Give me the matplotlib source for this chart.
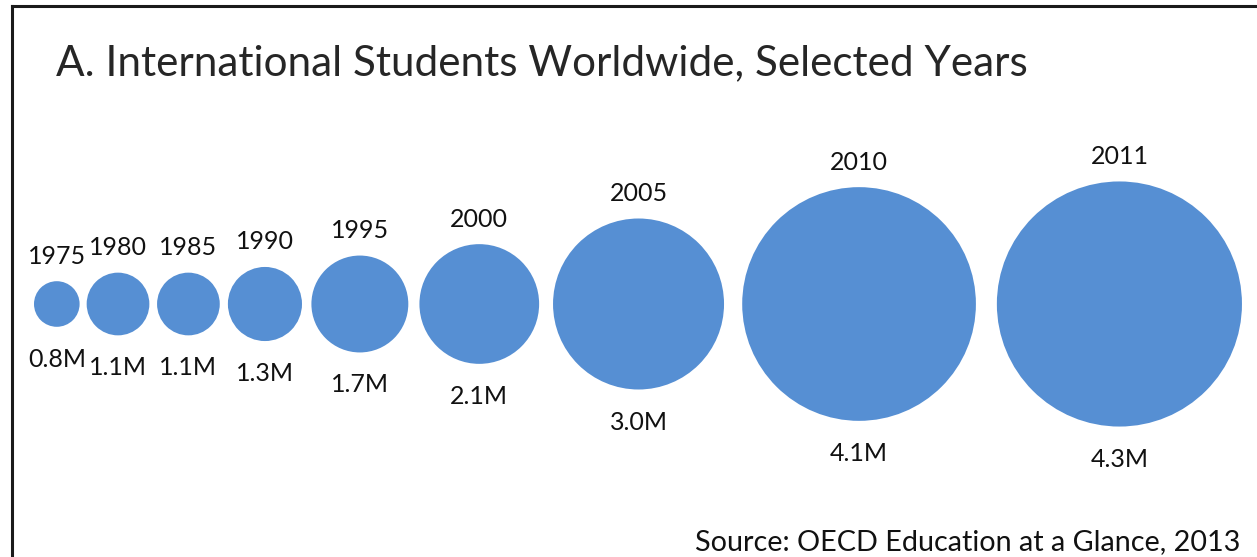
import matplotlib
matplotlib.use("Agg")
import matplotlib.pyplot as plt
from matplotlib.patches import Circle
from matplotlib.lines import Line2D

# Data
years = ["1975", "1980", "1985", "1990", "1995", "2000", "2005", "2010", "2011"]
students_m = [0.8, 1.1, 1.1, 1.3, 1.7, 2.1, 3.0, 4.1, 4.3]
value_labels = ["0.8M", "1.1M", "1.1M", "1.3M", "1.7M", "2.1M", "3.0M", "4.1M", "4.3M"]
title = "A. International Students Worldwide, Selected Years"
source = "Source: OECD Education at a Glance, 2013"

# Style / layout
W, H = 1257, 557
px_per_m = 57.0          # bubble diameter per million students
left_start = 34.0
center_y = 304.0
bubble_color = "#568FD3"
text_color = "#111111"
font = "Lato"

fig = plt.figure(figsize=(W / 100, H / 100), dpi=100)
ax = fig.add_axes([0, 0, 1, 1])
ax.set_xlim(0, W)
ax.set_ylim(H, 0)
ax.set_aspect("equal")
ax.axis("off")

# frame lines (left and top)
ax.add_line(Line2D([11.5, 11.5], [5.5, H], color="#1a1a1a", lw=2.2))
ax.add_line(Line2D([11.5, W], [5.5, 5.5], color="#1a1a1a", lw=2.2))

radii = [v * px_per_m / 2 for v in students_m]
x = left_start
prev_r = None
for yr, v, lab, r in zip(years, students_m, value_labels, radii):
    if prev_r is not None:
        x += 3 + 0.075 * (prev_r + r)
    cx = x + r
    ax.add_patch(Circle((cx, center_y), r, facecolor=bubble_color, edgecolor="none"))
    ax.text(cx, center_y - r - 17.5, yr, ha="center", va="baseline",
            fontsize=18, family=font, color=text_color)
    ax.text(cx, center_y + r + 40, lab, ha="center", va="baseline",
            fontsize=18, family=font, color=text_color)
    x = cx + r
    prev_r = r

ax.text(56, 75, title, ha="left", va="baseline", fontsize=30.4,
        family=font, color="#262626")
ax.text(1240, 550, source, ha="right", va="baseline", fontsize=20.7,
        family=font, color=text_color)

fig.savefig("out.png", dpi=100, facecolor="white")
